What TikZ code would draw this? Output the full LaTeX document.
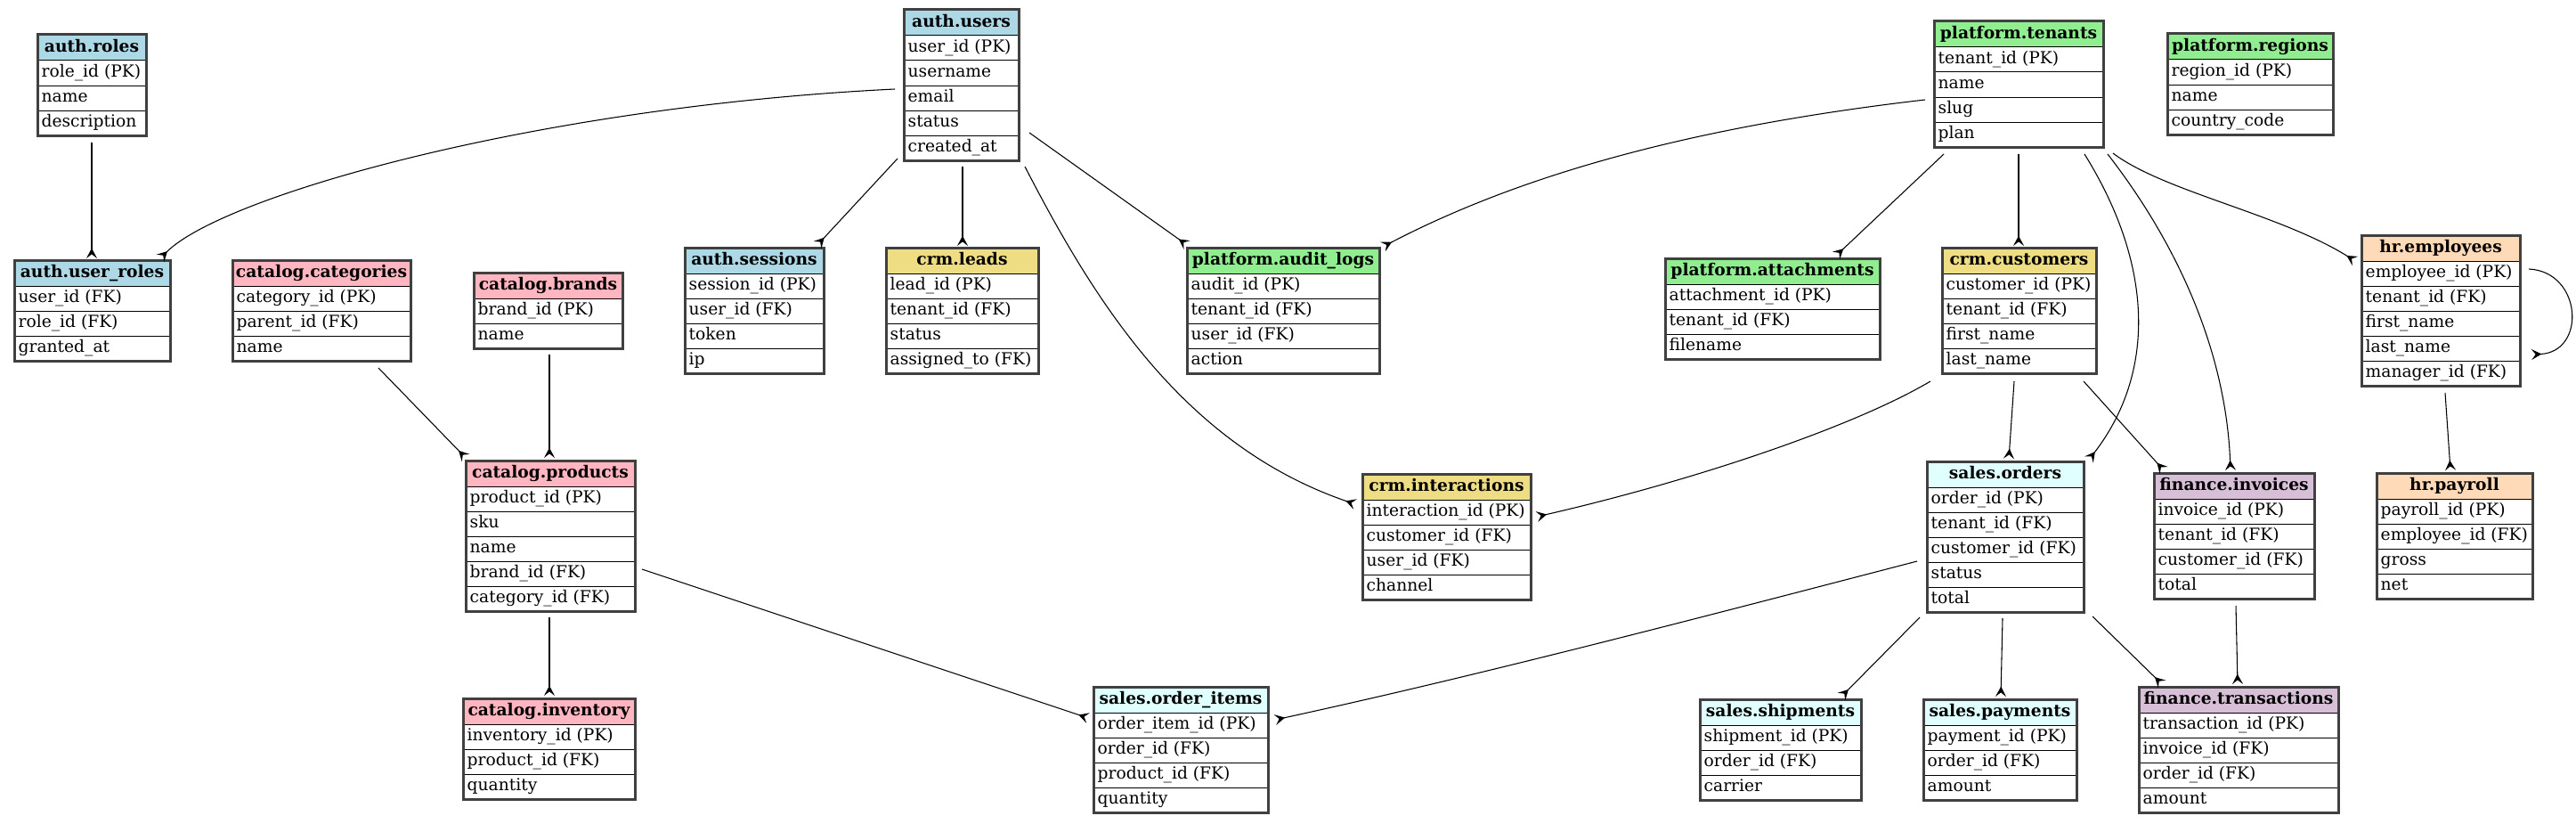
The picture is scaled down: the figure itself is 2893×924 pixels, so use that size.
\documentclass[tikz,border=0pt]{standalone}
\usepackage{fontspec}
\setmainfont{DejaVu Serif}
\usepackage{tikz}
\usetikzlibrary{arrows.meta,positioning,calc,fit}

\definecolor{authblue}{HTML}{ADD8E6}
\definecolor{catalogpink}{HTML}{FFB6C1}
\definecolor{crmgold}{HTML}{EEDD82}
\definecolor{platformgreen}{HTML}{90EE90}
\definecolor{salescyan}{HTML}{E0FFFF}
\definecolor{financethistle}{HTML}{D8BFD8}
\definecolor{hrpeach}{HTML}{FFDAB9}

% one table: name, top left (px), width (px), header colour, title, fields
\newcommand{\erdtable}[6]{%
  \pgfmathsetlengthmacro{\tabw}{0.75pt*#3}%
  \pgfmathsetlengthmacro{\tabtw}{0.75pt*#3-7pt}%
  \node[tablehead, fill=#4, minimum width=\tabw, anchor=north west] (#1-0) at (#2) {#5};
  \foreach \f [count=\i, remember=\i as \j (initially 0)] in {#6}{
    \node[tablerow, minimum width=\tabw, anchor=north west] (#1-\i) at (#1-\j.south west) {\makebox[\tabtw][l]{\f}};
    \xdef\lastfield{\i}
  }
  \node[tableframe, fit=(#1-0)(#1-\lastfield)] (#1) {};
}

\begin{document}
\begin{tikzpicture}[x=0.75pt, y=-0.75pt, font=\fontsize{14}{16.8}\selectfont,
    tablehead/.style={draw=black, line width=0.75pt, inner sep=0pt, outer sep=0pt,
      minimum height=21.75pt, text height=10.5pt, text depth=3.5pt,
      font=\fontsize{14}{16.8}\selectfont\bfseries},
    tablerow/.style={draw=black, line width=0.75pt, fill=white, inner xsep=3.5pt,
      inner ysep=0pt, outer sep=0pt, minimum height=21pt, text height=10.5pt, text depth=3.5pt},
    tableframe/.style={draw=black!75, line width=2.25pt, inner sep=0pt, outer sep=0pt},
    fk/.style={line width=0.8pt, -{Stealth[reversed, length=8.5pt, width=9pt, inset=3.5pt]}}]
    \useasboundingbox (0,0) rectangle (2893,924);

    % auth
    \erdtable{roles}{42,39}{122}{authblue}{auth.roles}{role\_id (PK), name, description}
    \erdtable{userroles}{16,292}{175}{authblue}{auth.user\_roles}{user\_id (FK), role\_id (FK), granted\_at}
    \erdtable{users}{1015,11}{129}{authblue}{auth.users}{user\_id (PK), username, email, status, created\_at}
    \erdtable{sessions}{769,278}{156}{authblue}{auth.sessions}{session\_id (PK), user\_id (FK), token, ip}

    % catalog
    \erdtable{categories}{261,292}{200}{catalogpink}{catalog.categories}{category\_id (PK), parent\_id (FK), name}
    \erdtable{brands}{532,306}{167}{catalogpink}{catalog.brands}{brand\_id (PK), name}
    \erdtable{products}{523,517}{190}{catalogpink}{catalog.products}{product\_id (PK), sku, name, brand\_id (FK), category\_id (FK)}
    \erdtable{inventory}{520,784}{193}{catalogpink}{catalog.inventory}{inventory\_id (PK), product\_id (FK), quantity}

    % crm
    \erdtable{leads}{995,278}{171}{crmgold}{crm.leads}{lead\_id (PK), tenant\_id (FK), status, assigned\_to (FK)}
    \erdtable{customers}{2181,278}{173}{crmgold}{crm.customers}{customer\_id (PK), tenant\_id (FK), first\_name, last\_name}
    \erdtable{interactions}{1530,532}{189}{crmgold}{crm.interactions}{interaction\_id (PK), customer\_id (FK), user\_id (FK), channel}

    % platform
    \erdtable{auditlogs}{1333,278}{216}{platformgreen}{platform.audit\_logs}{audit\_id (PK), tenant\_id (FK), user\_id (FK), action}
    \erdtable{tenants}{2172,24}{190}{platformgreen}{platform.tenants}{tenant\_id (PK), name, slug, plan}
    \erdtable{regions}{2434,38}{186}{platformgreen}{platform.regions}{region\_id (PK), name, country\_code}
    \erdtable{attachments}{1870,290}{241}{platformgreen}{platform.attachments}{attachment\_id (PK), tenant\_id (FK), filename}

    % sales
    \erdtable{orders}{2164,518}{176}{salescyan}{sales.orders}{order\_id (PK), tenant\_id (FK), customer\_id (FK), status, total}
    \erdtable{orderitems}{1228,771}{196}{salescyan}{sales.order\_items}{order\_item\_id (PK), order\_id (FK), product\_id (FK), quantity}
    \erdtable{shipments}{1909,785}{181}{salescyan}{sales.shipments}{shipment\_id (PK), order\_id (FK), carrier}
    \erdtable{payments}{2160,785}{172}{salescyan}{sales.payments}{payment\_id (PK), order\_id (FK), amount}

    % finance
    \erdtable{invoices}{2419,531}{180}{financethistle}{finance.invoices}{invoice\_id (PK), tenant\_id (FK), customer\_id (FK), total}
    \erdtable{transactions}{2402,771}{224}{financethistle}{finance.transactions}{transaction\_id (PK), invoice\_id (FK), order\_id (FK), amount}

    % hr
    \erdtable{employees}{2652,264}{178}{hrpeach}{hr.employees}{employee\_id (PK), tenant\_id (FK), first\_name, last\_name, manager\_id (FK)}
    \erdtable{payroll}{2669,531}{175}{hrpeach}{hr.payroll}{payroll\_id (PK), employee\_id (FK), gross, net}

    % auth links
    \draw[fk] ($(roles.north west)+(61,121)$) -- ($(userroles.north west)+(87,-2)$);
    \draw[fk] ($(users.north west)+(-10,89)$) .. controls +(-405,20) and +(70,-70) .. ($(userroles.north west)+(164,-2)$);
    \draw[fk] ($(users.north west)+(-7,167)$) -- ($(sessions.north west)+(149,-3)$);
    \draw[fk] ($(users.north west)+(66,176)$) -- ($(leads.north west)+(86,-2)$);
    \draw[fk] ($(users.north west)+(141,138)$) -- ($(auditlogs.north west)+(0,-3)$);
    \draw[fk] ($(users.north west)+(136,176)$) .. controls +(79,153) and +(-192,-66) .. ($(interactions.north west)+(-8,34)$);

    % platform links
    \draw[fk] ($(tenants.north west)+(-10,88)$) .. controls +(-242,28) and +(167,-87) .. ($(auditlogs.north west)+(220,-1)$);
    \draw[fk] ($(tenants.north west)+(11,149)$) -- ($(attachments.north west)+(192,-3)$);
    \draw[fk] ($(tenants.north west)+(95,149)$) -- ($(customers.north west)+(86,-2)$);
    \draw[fk] ($(tenants.north west)+(169,149)$) .. controls +(79,127) and +(74,-96) .. ($(orders.north west)+(182,-2)$);
    \draw[fk] ($(tenants.north west)+(195,149)$) .. controls +(83,107) and +(-5,-128) .. ($(invoices.north west)+(86,-3)$);
    \draw[fk] ($(tenants.north west)+(201,148)$) .. controls +(57,43) and +(-85,-53) .. ($(employees.north west)+(-7,29)$);

    % hr links
    \draw[fk] ($(employees.north west)+(188,38)$) .. controls +(60,3) and +(62,-3) .. ($(employees.north west)+(191,134)$);
    \draw[fk] ($(employees.north west)+(94,177)$) -- ($(payroll.north west)+(83,-3)$);

    % crm links
    \draw[fk] ($(customers.north west)+(-13,150)$) .. controls +(-88,52) and +(174,-40) .. ($(interactions.north west)+(196,48)$);
    \draw[fk] ($(customers.north west)+(81,150)$) -- ($(orders.north west)+(92,-3)$);
    \draw[fk] ($(customers.north west)+(159,150)$) -- ($(invoices.north west)+(11,-3)$);

    % catalog links
    \draw[fk] ($(categories.north west)+(164,121)$) -- ($(products.north west)+(0,-3)$);
    \draw[fk] ($(brands.north west)+(85,92)$) -- ($(products.north west)+(94,-3)$);
    \draw[fk] ($(products.north west)+(94,176)$) -- ($(inventory.north west)+(97,-3)$);
    \draw[fk] ($(products.north west)+(198,122)$) -- ($(orderitems.north west)+(-6,35)$);

    % sales and finance links
    \draw[fk] ($(orders.north west)+(-11,112)$) .. controls +(-250,65) and +(230,-50) .. ($(orderitems.north west)+(204,37)$);
    \draw[fk] ($(orders.north west)+(-8,175)$) -- ($(shipments.north west)+(159,-3)$);
    \draw[fk] ($(orders.north west)+(85,176)$) -- ($(payments.north west)+(87,-3)$);
    \draw[fk] ($(orders.north west)+(186,174)$) -- ($(transactions.north west)+(26,-3)$);
    \draw[fk] ($(invoices.north west)+(92,149)$) -- ($(transactions.north west)+(111,-3)$);
\end{tikzpicture}
\end{document}
